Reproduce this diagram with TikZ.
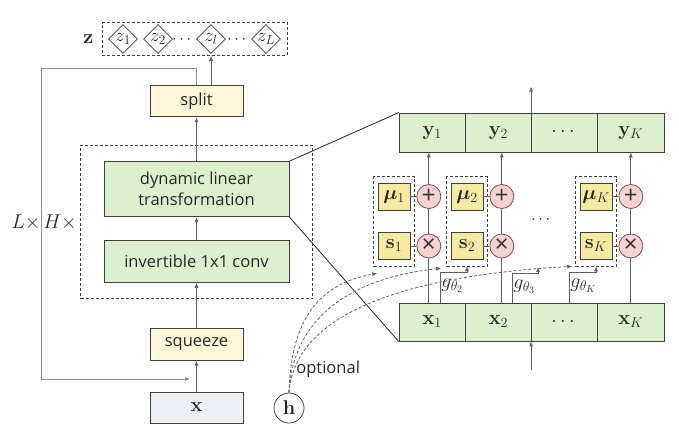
\RequirePackage{fix-cm}
\documentclass[tikz,border=0pt]{standalone}
\usepackage{amsmath,bm}
\usepackage[no-math]{fontspec}
\setmainfont{Open Sans}
\usetikzlibrary{positioning,fit,shapes.geometric,arrows.meta}

\definecolor{boxgreen}{HTML}{DCF0CD}
\definecolor{boxyellow}{HTML}{F4EAA2}
\definecolor{paleyellow}{HTML}{FFF7D8}
\definecolor{palegray}{HTML}{EDF0F5}
\definecolor{oppink}{HTML}{F6D2D2}
\definecolor{oprim}{HTML}{7D4B4B}
\definecolor{linegray}{HTML}{5E5E5E}

\tikzset{
  boxbase/.style={draw=black!75, line width=0.8pt, inner sep=0pt, text=black!85, font=\fontsize{16.5}{21}\selectfont},
  plain/.style={boxbase, draw=none},
  mathlab/.style={font=\fontsize{20}{23}\selectfont},
  greenbox/.style={boxbase, fill=boxgreen, minimum width=185pt},
  lightbox/.style={boxbase, fill=paleyellow, minimum width=93pt, minimum height=31pt},
  cell/.style={boxbase, mathlab, fill=boxgreen, minimum width=66.25pt, minimum height=39pt},
  ybox/.style={boxbase, mathlab, fill=boxyellow, minimum width=32pt, minimum height=27pt},
  opnode/.style={boxbase, circle, fill=oppink, draw=oprim, minimum size=24pt,
    label={[inner sep=0pt, text=black!80, font=\fontsize{24}{24}\selectfont]center:#1}},
  zdiamond/.style={boxbase, diamond, fill=white, minimum size=29pt,
    label={[inner sep=0pt, text=black!85, font=\fontsize{19}{19}\selectfont]center:$z_{#1}$}},
  dashbox/.style={draw=black!75, line width=0.8pt, dash pattern=on 3pt off 2pt, inner sep=0pt},
  flow/.style={draw=linegray, line width=0.8pt, -{Latex[length=5pt,width=4pt]}},
  optflow/.style={flow, dash pattern=on 3pt off 2pt},
}

\begin{document}
\begin{tikzpicture}[x=1pt,y=-1pt]
  \useasboundingbox (0,0) rectangle (679,445);

  % left column
  \node[lightbox, mathlab, fill=palegray] (xin) at (196.5,407.5) {$\mathbf{x}$};
  \node[lightbox, minimum height=32pt, above=31pt of xin] (squeeze) {squeeze};
  \node[greenbox, minimum height=42pt, above=45pt of squeeze] (conv) {invertible 1x1 conv};
  \node[greenbox, minimum height=55pt, align=center, above=23pt of conv] (dlt) {dynamic linear\\transformation};
  \node[lightbox, above=44pt of dlt] (split) {split};
  \node[dashbox, fit=(conv)(dlt), inner xsep=23pt, inner ysep=16pt] (block) {};
  \node[plain, mathlab, left=3pt of block] (Hrep) {$H\times$};
  \node[plain, mathlab] (Lrep) at (26,222) {$L\times$};

  \foreach \x/\sub in {123/1, 158/2, 211/l, 266/L}
    \node[zdiamond=\sub] (z\sub) at (\x,39) {};
  \node[plain] (zdots1) at (183,40) {$\cdots$};
  \node[plain] (zdots2) at (238,40) {$\cdots$};
  \node[dashbox, fit=(z1)(zL), inner xsep=6pt, inner ysep=1.5pt] (zrow) {};
  \node[plain, mathlab, left=8pt of zrow] (zlab) {$\mathbf{z}$};

  \draw[flow] (xin) -- (squeeze);
  \draw[flow] (squeeze) -- (conv);
  \draw[flow] (conv) -- (dlt);
  \draw[flow] (dlt) -- (split);
  \draw[flow] (zl |- split.north) -- (zl |- zrow.south);
  \coordinate (loopin) at (190,379);
  \draw[flow, draw=black!45] (split.north) -- ++(0,-17) -| (41,379) -- (loopin); % back to squeeze

  % zoomed transformation
  \foreach \lab [count=\i] in {$\mathbf{y}_1$, $\mathbf{y}_2$, $\cdots$, $\mathbf{y}_K$}
    \node[cell] (y\i) at ({399+66.25*(\i-0.5)},132.5) {\lab};
  \foreach \lab [count=\i] in {$\mathbf{x}_1$, $\mathbf{x}_2$, $\cdots$, $\mathbf{x}_K$}
    \node[cell, minimum height=38pt] (x\i) at ({399+66.25*(\i-0.5)},322) {\lab};

  \foreach \idx/\bx in {1/394, 2/467, K/596} {
    \node[ybox] (mu\idx) at (\bx,196.5) {$\bm{\mu}_\idx$};
    \node[ybox] (s\idx) at (\bx,246) {$\mathbf{s}_\idx$};
    \node[opnode=+, right=6pt of mu\idx] (add\idx) {};
    \node[opnode=×, right=6pt of s\idx] (mul\idx) {};
    \node[dashbox, fit=(mu\idx)(s\idx), inner xsep=4pt, inner ysep=6pt] (col\idx) {};
    \draw[linegray, line width=0.8pt] (mu\idx) -- (add\idx) (s\idx) -- (mul\idx)
      (mul\idx) -- (add\idx) (mul\idx) -- (mul\idx |- x1.north);
    \draw[flow] (add\idx) -- (add\idx |- y1.south);
  }
  \node[plain] (coldots) at (542,220) {$\cdots$};

  \coordinate (gap3) at (538,267);
  \foreach \sx/\tgt/\lab in {440/col2.south/2, 512/gap3/3, 569/colK.south/K}
    \draw[flow] (\sx,0 |- x1.north) |- ([yshift=-6pt]\tgt)
      node[plain, mathlab, pos=0.5, anchor=north west, inner sep=1pt, yshift=-5pt] (g\lab) {$g_{\theta_\lab}$} -- (\tgt);

  \coordinate[above=26pt of y3.north west] (yout);
  \draw[flow] (y3.north west) -- (yout);
  \coordinate[below=29pt of x3.south west] (xfeed);
  \draw[flow] (xfeed) -- (x3.south west);

  \draw[black!85, line width=0.8pt] (dlt.north east) -- (y1.north west)
    (dlt.south east) -- (x1.south west);

  % optional conditioning
  \node[boxbase, mathlab, circle, minimum size=30pt] (h) at (289,408) {$\mathbf{h}$};
  \node[plain, anchor=west] (opt) at (296,369) {optional};
  \draw[optflow] (h.north) .. controls (291,320) and (318,284) .. ([shift={(4,7)}]col1.south west);
  \draw[optflow] (h.north) .. controls (293,318) and (350,278) .. ([shift={(-5,2)}]col2.south west);
  \draw[optflow] (h.north) .. controls (295,315) and (400,276) .. ([shift={(-3,0)}]colK.south west);
\end{tikzpicture}
\end{document}
